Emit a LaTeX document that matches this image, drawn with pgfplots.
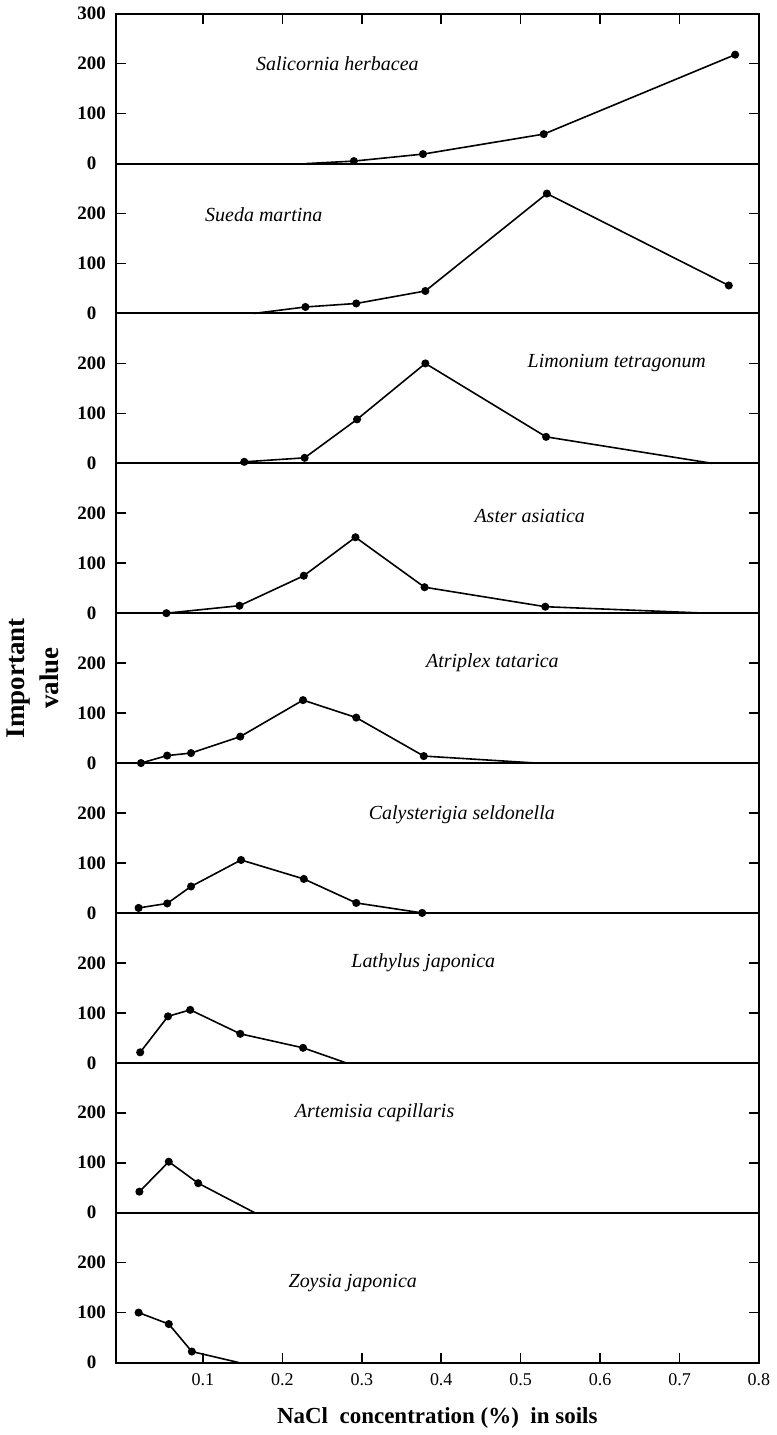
\documentclass[border=0pt]{standalone}
\usepackage{fontspec}
\setmainfont{Liberation Serif}
\usepackage{pgfplots}
\pgfplotsset{compat=1.18}
\usepgfplotslibrary{groupplots}

\pgfplotsset{
  panel/.style={
    width=322pt, height=75pt, scale only axis,
    xmin=-0.01, xmax=0.8, ymin=0, ymax=300,
    ytick={0,100,200},
    xtick={0.1,0.2,0.3,0.4,0.5,0.6,0.7,0.8},
    xmajorticks=false,
    ytick pos=both,
    tick align=inside,
    major tick length=5pt,
    tick style={black, line width=0.8pt},
    axis line style={line width=1pt},
    yticklabel style={font=\bfseries\fontsize{9.5}{10}\selectfont, anchor=center, xshift=-12pt},
    /pgf/number format/assume math mode=true,
    clip=false,
  },
}
\tikzset{
  curve/.style={black, line width=0.8pt, mark=*, mark size=1.6pt},
  sp/.style={anchor=west, font=\itshape\fontsize{10}{12}\selectfont},
}

\begin{document}
\begin{tikzpicture}
\begin{groupplot}[group style={group size=1 by 9, vertical sep=0pt}, panel]

% Salicornia herbacea
\nextgroupplot[ytick={0,100,200,300}, xmajorticks=true, xtick pos=right, xticklabels={}]
\addplot[curve, mark indices={2,3,4,5}] coordinates {
  (0.23,0) (0.29,5) (0.377,19) (0.529,59) (0.77,218)
};
\node[sp] at (axis cs:0.158,200) {Salicornia herbacea};

% Sueda martina
\nextgroupplot
\addplot[curve, mark indices={2,3,4,5,6}] coordinates {
  (0.164,0) (0.229,13) (0.293,20) (0.380,45) (0.533,240) (0.762,56)
};
\node[sp] at (axis cs:0.094,198) {Sueda martina};

% Limonium tetragonum
\nextgroupplot
\addplot[curve, mark indices={1,2,3,4,5}] coordinates {
  (0.152,3) (0.228,11) (0.294,88) (0.380,200) (0.532,53) (0.741,0)
};
\node[sp] at (axis cs:0.50,200) {Limonium tetragonum};

% Aster asiatica
\nextgroupplot
\addplot[curve, mark indices={1,2,3,4,5,6}] coordinates {
  (0.054,0) (0.146,15) (0.227,75) (0.292,152) (0.379,52) (0.531,13) (0.735,0)
};
\node[sp] at (axis cs:0.433,195) {Aster asiatica};

% Atriplex tatarica
\nextgroupplot
\addplot[curve, mark indices={1,2,3,4,5,6,7}] coordinates {
  (0.022,0) (0.055,15) (0.085,20) (0.147,53) (0.226,126) (0.293,91) (0.378,14) (0.52,0)
};
\node[sp] at (axis cs:0.372,200) {Atriplex tatarica};

% Calysterigia seldonella
\nextgroupplot
\addplot[curve] coordinates {
  (0.019,10) (0.055,19) (0.085,53) (0.148,106) (0.227,68) (0.293,20) (0.376,0)
};
\node[sp] at (axis cs:0.300,197) {Calysterigia seldonella};

% Lathylus japonica
\nextgroupplot
\addplot[curve, mark indices={1,2,3,4,5}] coordinates {
  (0.021,21) (0.056,93) (0.084,106) (0.147,58) (0.226,30) (0.28,0)
};
\node[sp] at (axis cs:0.278,200) {Lathylus japonica};

% Artemisia capillaris
\nextgroupplot
\addplot[curve, mark indices={1,2,3}] coordinates {
  (0.020,42) (0.057,102) (0.094,59) (0.165,0)
};
\node[sp] at (axis cs:0.207,200) {Artemisia capillaris};

% Zoysia japonica
\nextgroupplot[xmajorticks=true, xtick pos=left,
  xticklabel style={font=\fontsize{9}{10}\selectfont, yshift=-2pt,
    /pgf/number format/fixed, /pgf/number format/precision=1},
  xlabel={NaCl\ \ concentration (\%)\ \ in soils},
  xlabel style={font=\bfseries\fontsize{11.5}{13}\selectfont, yshift=-4pt}]
\addplot[curve, mark indices={1,2,3}] coordinates {
  (0.019,100) (0.057,77) (0.086,22) (0.145,0)
};
\node[sp] at (axis cs:0.199,160) {Zoysia japonica};

\end{groupplot}
\node[rotate=90, align=center, font=\bfseries\fontsize{13.5}{17}\selectfont]
  at ([xshift=-41.5pt, yshift=5pt]group c1r5.west) {Important\\value};
\end{tikzpicture}
\end{document}
